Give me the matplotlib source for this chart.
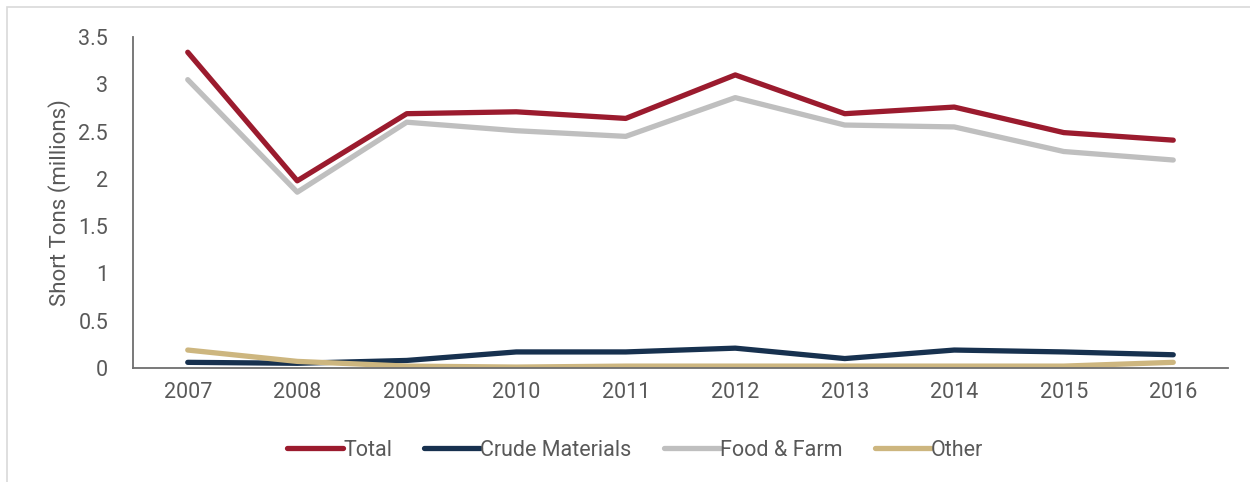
import matplotlib.pyplot as plt
from matplotlib.patches import Rectangle

# Data
years = [2007, 2008, 2009, 2010, 2011, 2012, 2013, 2014, 2015, 2016]
total = [3.34, 1.98, 2.69, 2.71, 2.64, 3.10, 2.69, 2.76, 2.49, 2.41]
crude = [0.06, 0.05, 0.08, 0.17, 0.17, 0.21, 0.10, 0.19, 0.17, 0.14]
food_farm = [3.05, 1.86, 2.60, 2.51, 2.45, 2.86, 2.57, 2.55, 2.29, 2.20]
other = [0.19, 0.07, 0.02, 0.01, 0.02, 0.02, 0.02, 0.02, 0.02, 0.06]

plt.rcParams['font.family'] = ['Roboto', 'DejaVu Sans']
text_color = '#595959'

fig = plt.figure(figsize=(12.5, 4.82), dpi=100)
ax = fig.add_axes([0.1064, 0.2365, 0.8760, 0.6865])

# light frame around the chart area
fig.patches.append(Rectangle((0.0056, -0.05), 1.1, 1.036, transform=fig.transFigure,
                             fill=False, edgecolor='#d9d9d9', linewidth=1.2))

lw = 3.8
ax.plot(years, total, color='#9b1b2e', lw=lw, solid_capstyle='round', label='Total')
ax.plot(years, crude, color='#17314f', lw=lw, solid_capstyle='round', label='Crude Materials')
ax.plot(years, food_farm, color='#bfbfbf', lw=lw, solid_capstyle='round', label='Food & Farm')
ax.plot(years, other, color='#cdb67f', lw=lw, solid_capstyle='round', label='Other')

ax.set_xlim(2006.5, 2016.5)
ax.set_ylim(0, 3.5)
ax.set_xticks(years)
ax.set_yticks([0, 0.5, 1, 1.5, 2, 2.5, 3, 3.5])
ax.set_yticklabels(['0', '0.5', '1', '1.5', '2', '2.5', '3', '3.5'])
ax.tick_params(axis='both', length=0, labelsize=15.5, colors=text_color)
ax.tick_params(axis='x', pad=10)
ax.tick_params(axis='y', pad=18)

for s in ['top', 'right']:
    ax.spines[s].set_visible(False)
for s in ['left', 'bottom']:
    ax.spines[s].set_color('#6e6e6e')
    ax.spines[s].set_linewidth(1.3)

ax.set_ylabel('Short Tons (millions)', fontsize=16, color=text_color, labelpad=5)

leg = fig.legend(loc='center', bbox_to_anchor=(0.508, 0.066), ncol=4, frameon=False,
                 fontsize=15.5, handlelength=2.6, handletextpad=0.0, columnspacing=1.5,
                 labelcolor=text_color)

fig.savefig('out.png', dpi=100)
